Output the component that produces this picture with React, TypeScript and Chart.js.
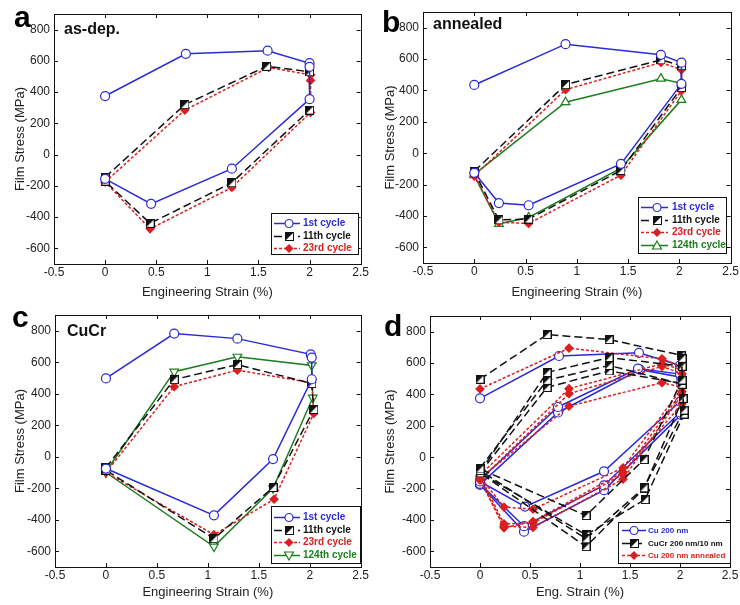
import React, { useEffect, useRef } from 'react';
import { Chart, registerables } from 'chart.js';
Chart.register(...registerables);

// ---------- tick labels ----------
const xTicks = [-0.5, 0, 0.5, 1, 1.5, 2, 2.5];
const yTicks = [-600, -400, -200, 0, 200, 400, 600, 800];

// ---------- legend labels ----------
const cycleLabels = ['1st cycle', '11th cycle', '23rd cycle', '124th cycle'];
const compareLabels = ['Cu 200 nm', 'CuCr 200 nm/10 nm', 'Cu 200 nm annealed'];

// ---------- (a) as-dep. Cu 200 nm ----------
const a1X = [0, 0.79, 1.59, 2.0, 2.0, 2.0, 1.24, 0.45, 0];
const a1Y = [375, 645, 665, 585, 562, 355, -90, -315, -155];
const a11X = [0, 0.78, 1.58, 2.0, 2.0, 1.24, 0.44, 0];
const a11Y = [-145, 320, 565, 530, 285, -180, -440, -170];
const a23X = [0, 0.78, 1.6, 2.01, 2.01, 2.01, 1.24, 0.44, 0];
const a23Y = [-175, 285, 558, 510, 475, 270, -210, -475, -175];

// ---------- (b) annealed ----------
const bX = [0, 0.89, 1.82, 2.02, 2.02, 1.43, 0.53, 0.24, 0];
const b1Y = [435, 695, 627, 577, 442, -68, -332, -318, -125];
const b11Y = [-115, 437, 595, 558, 418, -110, -420, -425, -118];
const b23Y = [-145, 405, 578, 532, 398, -140, -448, -440, -145];
const b124Y = [-135, 325, 475, 445, 340, -95, -410, -450, -140];

// ---------- (c) CuCr ----------
const c1X = [0, 0.67, 1.29, 2.01, 2.02, 2.02, 1.64, 1.06, 0];
const c1Y = [497, 782, 750, 650, 630, 492, -15, -372, -75];
const c11X = [0, 0.67, 1.29, 2.02, 2.04, 1.64, 1.06, 0];
const c11Y = [-70, 490, 585, 465, 300, -195, -520, -85];
const c23X = [0, 0.67, 1.29, 2.02, 2.04, 1.65, 1.06, 0];
const c23Y = [-100, 445, 550, 470, 275, -270, -495, -100];
const c124X = [0, 0.67, 1.29, 2.02, 2.03, 1.64, 1.06, 0];
const c124Y = [-95, 540, 635, 580, 375, -200, -570, -100];

const FAMILY = '"Liberation Sans", Arial, Helvetica, sans-serif';
const BLUE = '#2a2ad6';
const BLACK = '#111111';
const RED = '#d91f1f';
const GREEN = '#1c7d1c';
const TXT = '#222222';

let halfSquareCache: HTMLCanvasElement | null = null;
function halfSquare(): HTMLCanvasElement {
  if (halfSquareCache) return halfSquareCache;
  const c = document.createElement('canvas');
  c.width = 9; c.height = 9;
  const g = c.getContext('2d')!;
  g.fillStyle = '#fff'; g.fillRect(0, 0, 9, 9);
  g.fillStyle = BLACK;
  g.beginPath(); g.moveTo(0, 0); g.lineTo(9, 0); g.lineTo(0, 9); g.closePath(); g.fill();
  g.strokeStyle = BLACK; g.lineWidth = 1; g.strokeRect(0.5, 0.5, 8, 8);
  halfSquareCache = c;
  return c;
}

type Mk = 'circle' | 'square' | 'diamond' | 'triUp' | 'triDown';
const STY: Record<string, { color: string; dash: number[]; marker: Mk }> = {
  blue: { color: BLUE, dash: [], marker: 'circle' },
  black: { color: BLACK, dash: [8, 4], marker: 'square' },
  red: { color: RED, dash: [3, 2], marker: 'diamond' },
  greenUp: { color: GREEN, dash: [], marker: 'triUp' },
  greenDown: { color: GREEN, dash: [], marker: 'triDown' },
};

function series(xs: number[], ys: number[], key: string) {
  const s = STY[key];
  const base: any = {
    data: xs.map((x, i) => ({ x, y: ys[i] })),
    showLine: true,
    fill: false,
    tension: 0,
    borderColor: s.color,
    borderWidth: 1.5,
    borderDash: s.dash,
    pointBorderColor: s.color,
    pointBorderWidth: 1.2,
  };
  if (s.marker === 'circle') Object.assign(base, { pointStyle: 'circle', pointRadius: 4.5, pointBackgroundColor: '#fff' });
  if (s.marker === 'square') Object.assign(base, { pointStyle: halfSquare(), pointRadius: 4.5, pointBackgroundColor: '#fff' });
  if (s.marker === 'diamond') Object.assign(base, { pointStyle: 'rectRot', pointRadius: 4, pointBackgroundColor: s.color });
  if (s.marker === 'triUp') Object.assign(base, { pointStyle: 'triangle', pointRadius: 5, pointBackgroundColor: '#fff' });
  if (s.marker === 'triDown') Object.assign(base, { pointStyle: 'triangle', pointRotation: 180, pointRadius: 5, pointBackgroundColor: '#fff' });
  return base;
}

function drawMarker(ctx: CanvasRenderingContext2D, m: Mk, x: number, y: number, color: string) {
  ctx.save();
  ctx.lineWidth = 1.2;
  ctx.strokeStyle = color;
  if (m === 'circle') {
    ctx.fillStyle = '#fff';
    ctx.beginPath(); ctx.arc(x, y, 4, 0, Math.PI * 2); ctx.fill(); ctx.stroke();
  } else if (m === 'square') {
    ctx.drawImage(halfSquare(), Math.round(x - 4.5), Math.round(y - 4.5));
  } else if (m === 'diamond') {
    ctx.fillStyle = color;
    ctx.beginPath(); ctx.moveTo(x, y - 4.5); ctx.lineTo(x + 4.5, y); ctx.lineTo(x, y + 4.5); ctx.lineTo(x - 4.5, y); ctx.closePath(); ctx.fill();
  } else {
    const d = m === 'triUp' ? 1 : -1;
    ctx.fillStyle = '#fff';
    ctx.beginPath(); ctx.moveTo(x, y - 4.5 * d); ctx.lineTo(x + 4.5, y + 3.5 * d); ctx.lineTo(x - 4.5, y + 3.5 * d); ctx.closePath(); ctx.fill(); ctx.stroke();
  }
  ctx.restore();
}

const framePlugin = {
  id: 'frame',
  afterDatasetsDraw(chart: any) {
    const { ctx, chartArea: a, scales } = chart;
    ctx.save();
    ctx.strokeStyle = '#111';
    ctx.lineWidth = 1;
    ctx.setLineDash([]);
    ctx.strokeRect(Math.round(a.left) + 0.5, Math.round(a.top) + 0.5, Math.round(a.right - a.left), Math.round(a.bottom - a.top));
    const L = 4;
    ctx.beginPath();
    xTicks.forEach((v) => {
      const px = Math.round(scales.x.getPixelForValue(v)) + 0.5;
      if (px <= a.left + 1 || px >= a.right - 1) return;
      ctx.moveTo(px, a.bottom); ctx.lineTo(px, a.bottom - L);
      ctx.moveTo(px, a.top); ctx.lineTo(px, a.top + L);
    });
    yTicks.forEach((v) => {
      const py = Math.round(scales.y.getPixelForValue(v)) + 0.5;
      if (py <= a.top + 1 || py >= a.bottom - 1) return;
      ctx.moveTo(a.left, py); ctx.lineTo(a.left + L, py);
      ctx.moveTo(a.right, py); ctx.lineTo(a.right - L, py);
    });
    ctx.stroke();
    ctx.restore();
  },
};

const legendPlugin = {
  id: 'boxLegend',
  afterDraw(chart: any, _args: any, o: any) {
    if (!o || !o.items) return;
    const ctx: CanvasRenderingContext2D = chart.ctx;
    ctx.save();
    ctx.fillStyle = '#fff';
    ctx.fillRect(o.x, o.y, o.w, o.h);
    ctx.strokeStyle = '#111';
    ctx.lineWidth = 1;
    ctx.strokeRect(o.x + 0.5, o.y + 0.5, o.w, o.h);
    o.items.forEach((it: any, i: number) => {
      const yy = Math.round(o.y0 + i * o.rowH) + 0.5;
      const s = STY[it.key];
      ctx.strokeStyle = s.color;
      ctx.lineWidth = 1.5;
      ctx.setLineDash(s.dash);
      ctx.beginPath(); ctx.moveTo(o.sx0, yy); ctx.lineTo(o.sx1, yy); ctx.stroke();
      ctx.setLineDash([]);
      drawMarker(ctx, s.marker, o.mx, yy, s.color);
      ctx.fillStyle = s.color;
      ctx.font = `bold ${o.fontSize}px ${FAMILY}`;
      ctx.textBaseline = 'middle';
      ctx.textAlign = 'left';
      ctx.fillText(it.label, o.tx, yy);
    });
    ctx.restore();
  },
};

type PanelCfg = {
  left: number; top: number; w: number; h: number;
  padL: number; yW: number; padT: number; padR: number; xH: number;
  xTitle: string;
  datasets: () => any[];
  legend: any;
};

function buildConfig(p: PanelCfg): any {
  const tickFont = { size: 12, family: FAMILY };
  const titleFont = { size: 13, family: FAMILY };
  return {
    type: 'scatter',
    data: { datasets: p.datasets() },
    plugins: [framePlugin, legendPlugin],
    options: {
      animation: false,
      responsive: false,
      devicePixelRatio: 1,
      layout: { padding: { left: p.padL, top: p.padT, right: p.padR, bottom: 0 } },
      plugins: {
        legend: { display: false },
        tooltip: { enabled: false },
        boxLegend: p.legend,
      },
      scales: {
        x: {
          type: 'linear',
          min: -0.5, max: 2.5,
          afterBuildTicks: (ax: any) => { ax.ticks = xTicks.map((v) => ({ value: v })); },
          afterFit: (s: any) => { s.height = p.xH; },
          grid: { display: false, drawTicks: false },
          border: { display: false },
          ticks: { padding: 1, color: TXT, font: tickFont, maxRotation: 0, autoSkip: false, callback: (v: any) => String(v) },
          title: { display: true, text: p.xTitle, color: TXT, font: titleFont, padding: { top: 0, bottom: 0 } },
        },
        y: {
          type: 'linear',
          min: -700, max: 900,
          afterBuildTicks: (ax: any) => { ax.ticks = yTicks.map((v) => ({ value: v })); },
          afterFit: (s: any) => { s.width = p.yW; },
          grid: { display: false, drawTicks: false },
          border: { display: false },
          ticks: { padding: 4, color: TXT, font: tickFont, autoSkip: false, callback: (v: any) => String(v) },
          title: { display: true, text: 'Film Stress (MPa)', color: TXT, font: titleFont, padding: { top: 4, bottom: 0 } },
        },
      },
    },
  };
}

const panels: PanelCfg[] = [
  {
    left: 0, top: 0, w: 370, h: 300, padL: 9, yW: 45, padT: 14, padR: 7, xH: 36,
    xTitle: 'Engineering Strain (%)',
    datasets: () => [series(a1X, a1Y, 'blue'), series(a11X, a11Y, 'black'), series(a23X, a23Y, 'red')],
    legend: {
      x: 271, y: 213, w: 87, h: 41, y0: 223, rowH: 12.5, sx0: 274, sx1: 300, mx: 289, tx: 303, fontSize: 10,
      items: [{ label: cycleLabels[0], key: 'blue' }, { label: cycleLabels[1], key: 'black' }, { label: cycleLabels[2], key: 'red' }],
    },
  },
  {
    left: 370, top: 0, w: 370, h: 300, padL: 9, yW: 44, padT: 12, padR: 7, xH: 37,
    xTitle: 'Engineering Strain (%)',
    datasets: () => [series(bX, b1Y, 'blue'), series(bX, b11Y, 'black'), series(bX, b23Y, 'red'), series(bX, b124Y, 'greenUp')],
    legend: {
      x: 268, y: 197, w: 88, h: 56, y0: 207, rowH: 12.5, sx0: 271, sx1: 298, mx: 287, tx: 302, fontSize: 10,
      items: [{ label: cycleLabels[0], key: 'blue' }, { label: cycleLabels[1], key: 'black' }, { label: cycleLabels[2], key: 'red' }, { label: cycleLabels[3], key: 'greenUp' }],
    },
  },
  {
    left: 0, top: 300, w: 370, h: 300, padL: 9, yW: 46, padT: 15, padR: 9, xH: 33,
    xTitle: 'Engineering Strain (%)',
    datasets: () => [series(c1X, c1Y, 'blue'), series(c11X, c11Y, 'black'), series(c23X, c23Y, 'red'), series(c124X, c124Y, 'greenDown')],
    legend: {
      x: 271, y: 206, w: 89, h: 57, y0: 217, rowH: 12.5, sx0: 274, sx1: 300, mx: 289, tx: 303, fontSize: 10,
      items: [{ label: cycleLabels[0], key: 'blue' }, { label: cycleLabels[1], key: 'black' }, { label: cycleLabels[2], key: 'red' }, { label: cycleLabels[3], key: 'greenDown' }],
    },
  },
  {
    left: 370, top: 300, w: 370, h: 300, padL: 9, yW: 51, padT: 16, padR: 10, xH: 33,
    xTitle: 'Eng. Strain (%)',
    datasets: () => [
      series(c1X, c1Y, 'black'), series(c11X, c11Y, 'black'), series(c23X, c23Y, 'black'), series(c124X, c124Y, 'black'),
      series(bX, b1Y, 'red'), series(bX, b11Y, 'red'), series(bX, b23Y, 'red'), series(bX, b124Y, 'red'),
      series(a1X, a1Y, 'blue'), series(a11X, a11Y, 'blue'), series(a23X, a23Y, 'blue'),
    ],
    legend: {
      x: 248, y: 222, w: 112, h: 41, y0: 230, rowH: 12.5, sx0: 252, sx1: 276, mx: 264, tx: 278, fontSize: 8,
      items: [{ label: compareLabels[0], key: 'blue' }, { label: compareLabels[1], key: 'black' }, { label: compareLabels[2], key: 'red' }],
    },
  },
];

function Panel({ p }: { p: PanelCfg }) {
  const ref = useRef<HTMLCanvasElement>(null);
  useEffect(() => {
    const chart = new Chart(ref.current!, buildConfig(p));
    return () => chart.destroy();
  }, []);
  return (
    <canvas
      ref={ref}
      width={p.w}
      height={p.h}
      style={{ position: 'absolute', left: p.left, top: p.top, width: p.w, height: p.h }}
    />
  );
}

const letterStyle: React.CSSProperties = {
  position: 'absolute', fontFamily: FAMILY, fontWeight: 'bold', fontSize: 30, lineHeight: '30px', color: '#000', margin: 0,
};
const labelStyle: React.CSSProperties = {
  position: 'absolute', fontFamily: FAMILY, fontWeight: 'bold', fontSize: 16, lineHeight: '16px', color: '#111', margin: 0,
};

export default function App() {
  return (
    <div style={{ position: 'absolute', left: 0, top: 0, width: 740, height: 605, background: '#fff' }}>
      {panels.map((p, i) => <Panel key={i} p={p} />)}
      <div style={{ ...letterStyle, left: 14, top: 2 }}>a</div>
      <div style={{ ...letterStyle, left: 382, top: 7 }}>b</div>
      <div style={{ ...letterStyle, left: 12, top: 302 }}>c</div>
      <div style={{ ...letterStyle, left: 384, top: 311 }}>d</div>
      <div style={{ ...labelStyle, left: 64, top: 21 }}>as-dep.</div>
      <div style={{ ...labelStyle, left: 433, top: 16 }}>annealed</div>
      <div style={{ ...labelStyle, left: 67, top: 323 }}>CuCr</div>
    </div>
  );
}
